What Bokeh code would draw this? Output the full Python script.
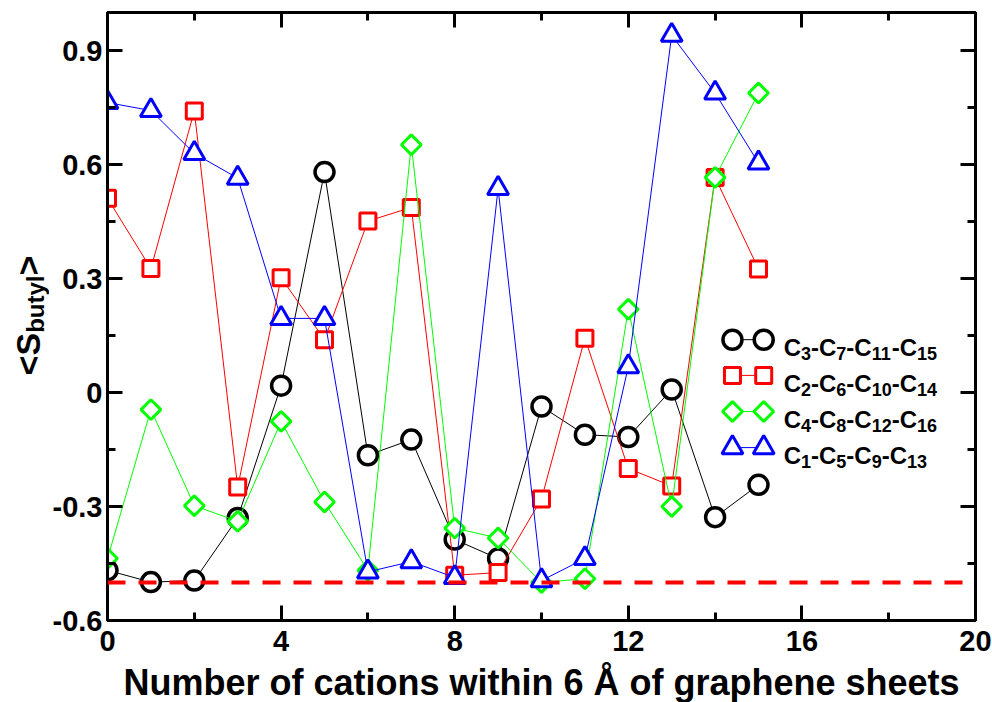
import math
from bokeh.plotting import figure
from bokeh.layouts import row
from bokeh.models import Range1d, FixedTicker, LinearAxis, Label, Span
from bokeh.embed import file_html
from bokeh.resources import INLINE

# ---------------- data ----------------
n_cations = list(range(16))
s_c3_c7_c11_c15 = [-0.468, -0.499, -0.495, -0.330, 0.018, 0.580, -0.165, -0.124,
                   -0.387, -0.437, -0.037, -0.111, -0.117, 0.008, -0.328, -0.243]
s_c2_c6_c10_c14 = [0.511, 0.326, 0.741, -0.249, 0.302, 0.139, 0.451, 0.487,
                   -0.481, -0.474, -0.280, 0.143, -0.200, -0.246, 0.566, 0.325]
s_c4_c8_c12_c16 = [-0.437, -0.045, -0.298, -0.339, -0.076, -0.288, -0.468, 0.652,
                   -0.357, -0.383, -0.500, -0.490, 0.219, -0.300, 0.566, 0.788]
s_c1_c5_c9_c13 = [0.763, 0.742, 0.629, 0.564, 0.195, 0.195, -0.472, -0.445,
                  -0.487, 0.537, -0.495, -0.437, 0.068, 0.940, 0.788, 0.604]
series_atoms = [["3", "7", "11", "15"], ["2", "6", "10", "14"],
                ["4", "8", "12", "16"], ["1", "5", "9", "13"]]
reference_level = -0.5

x_ticks = [0, 4, 8, 12, 16, 20]
x_tick_labels = ["0", "4", "8", "12", "16", "20"]
x_minor_ticks = [0, 2, 4, 6, 8, 10, 12, 14, 16, 18, 20]
y_ticks = [-0.6, -0.3, 0.0, 0.3, 0.6, 0.9]
y_tick_labels = ["-0.6", "-0.3", "0", "0.3", "0.6", "0.9"]
y_minor_ticks = [-0.6, -0.45, -0.3, -0.15, 0.0, 0.15, 0.3, 0.45, 0.6, 0.75, 0.9]
x_title = "Number of cations within 6 Å of graphene sheets"
y_title_parts = ["<S", "butyl", ">"]

# ---------------- styles ----------------
FONT = "Liberation Sans"
colors = ["black", "#ff0000", "#00ff00", "#0000ff"]
markers = ["circle", "square", "square", "triangle"]
m_sizes = [19, 16, 14, 21]
m_angles = [0, 0, math.pi / 4, 0]
m_lw = [3.5, 3, 3, 3]
series = [s_c3_c7_c11_c15, s_c2_c6_c10_c14, s_c4_c8_c12_c16, s_c1_c5_c9_c13]

TOP, BOTTOM, FRAME_H = 12, 82, 608
STRIP_W = 49

p = figure(frame_width=868, frame_height=FRAME_H,
           x_range=Range1d(0, 20), y_range=Range1d(-0.6, 1.0),
           output_backend="svg", toolbar_location=None,
           min_border_left=58, min_border_right=17,
           min_border_top=TOP, min_border_bottom=BOTTOM)
bottom_axis = p.below[0]
left_axis = p.left[0]
p.grid.visible = False
p.outline_line_color = "black"
p.outline_line_width = 3
p.background_fill_color = "white"
p.border_fill_color = "white"

top_axis = LinearAxis()
right_axis = LinearAxis()
p.add_layout(top_axis, "above")
p.add_layout(right_axis, "right")

for ax in [bottom_axis, top_axis]:
    ax.ticker = FixedTicker(ticks=x_ticks, minor_ticks=x_minor_ticks)
for ax in [left_axis, right_axis]:
    ax.ticker = FixedTicker(ticks=y_ticks, minor_ticks=y_minor_ticks)

bottom_axis.major_label_overrides = dict(zip(x_ticks, x_tick_labels))
left_axis.major_label_overrides = dict(zip(y_ticks, y_tick_labels))

for ax in [bottom_axis, left_axis, top_axis, right_axis]:
    ax.axis_line_width = 3
    ax.axis_line_color = "black"
    ax.major_tick_in = 15
    ax.major_tick_out = 0
    ax.minor_tick_in = 8
    ax.minor_tick_out = 0
    ax.major_tick_line_width = 3
    ax.minor_tick_line_width = 3
    ax.major_tick_line_color = "black"
    ax.minor_tick_line_color = "black"
    ax.major_label_text_font = FONT
    ax.major_label_text_font_style = "bold"
    ax.major_label_text_font_size = "29px"
    ax.major_label_text_color = "black"

for ax in [top_axis, right_axis]:
    ax.major_label_text_color = None
    ax.major_label_standoff = 0
bottom_axis.major_label_standoff = 10
left_axis.major_label_standoff = 5

bottom_axis.axis_label = x_title
bottom_axis.axis_label_text_font = FONT
bottom_axis.axis_label_text_font_style = "bold"
bottom_axis.axis_label_text_font_size = "36px"
bottom_axis.axis_label_text_color = "black"
bottom_axis.axis_label_standoff = 8

# ---------------- data series ----------------
for ys, c, mk, ms, ma, lw in zip(series, colors, markers, m_sizes, m_angles, m_lw):
    p.line(n_cations, ys, line_color=c, line_width=1)
    p.scatter(n_cations, ys, marker=mk, size=ms, angle=ma, line_color=c,
              fill_color="white", line_width=lw)

p.add_layout(Span(location=reference_level, dimension="width", line_color="#ff0000",
                  line_width=4, line_dash="18 13"))

# ---------------- legend (manual, with subscripts) ----------------
leg_x = [14.40, 15.12]
leg_rows = [0.139, 0.045, -0.05, -0.145]
leg_text_x = 15.58
MAIN = 24
SUB = 18
W = {"C": 0.722, "-": 0.333, "digit": 0.556}
for ys_row, atoms, c, mk, ms, ma, lw in zip(leg_rows, series_atoms, colors, markers,
                                             m_sizes, m_angles, m_lw):
    p.line(leg_x, [ys_row, ys_row], line_color=c, line_width=1)
    p.scatter(leg_x, [ys_row, ys_row], marker=mk, size=ms, angle=ma, line_color=c,
              fill_color="white", line_width=lw)
    off = 0.0
    for i, a in enumerate(atoms):
        main_txt = "C" if i == 0 else "-C"
        p.add_layout(Label(x=leg_text_x, y=ys_row, x_offset=off, y_offset=-8,
                           text=main_txt, text_font=FONT, text_font_style="bold",
                           text_font_size=f"{MAIN}px", text_baseline="alphabetic",
                           text_align="left", text_color="black"))
        off += MAIN * (W["C"] + (0 if i == 0 else W["-"]))
        p.add_layout(Label(x=leg_text_x, y=ys_row, x_offset=off, y_offset=-14,
                           text=a, text_font=FONT, text_font_style="bold",
                           text_font_size=f"{SUB}px", text_baseline="alphabetic",
                           text_align="left", text_color="black"))
        off += SUB * W["digit"] * len(a)

# ---------------- y title strip (rotated, with subscript) ----------------
q = figure(frame_width=STRIP_W, frame_height=FRAME_H,
           x_range=Range1d(0, STRIP_W), y_range=Range1d(-0.6, 1.0),
           output_backend="svg", toolbar_location=None,
           x_axis_location=None, y_axis_location=None,
           min_border_left=0, min_border_right=0,
           min_border_top=TOP, min_border_bottom=BOTTOM)
q.grid.visible = False
q.outline_line_color = None
q.background_fill_color = "white"
q.border_fill_color = "white"

YL_MAIN = 34
YL_SUB = 24
yl_y = 0.045
parts_style = [(YL_MAIN, 27, 0.584 + 0.667), (YL_SUB, 35, 2.389), (YL_MAIN, 27, 0.584)]
off = 0.0
for txt, (fs, bx, wem) in zip(y_title_parts, parts_style):
    q.add_layout(Label(x=bx, y=yl_y, y_offset=off, text=txt,
                       angle=math.pi / 2, text_font=FONT, text_font_style="bold",
                       text_font_size=f"{fs}px", text_align="left",
                       text_baseline="middle", text_color="black"))
    off += fs * wem

layout = row(q, p)
open("out.html", "w").write(file_html(layout, INLINE))
